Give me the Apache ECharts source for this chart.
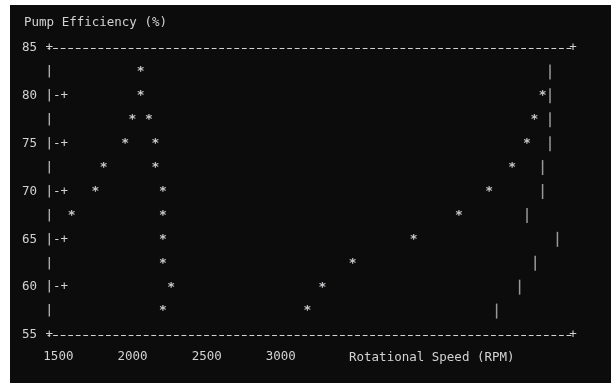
<!DOCTYPE html>
<html>
<head>
<meta charset="utf-8">
<script src="https://cdn.jsdelivr.net/npm/echarts@6/dist/echarts.min.js"></script>
<style>
  html, body { margin: 0; padding: 0; background: #ffffff; width: 611px; height: 383px; overflow: hidden; }
  #chart { position: absolute; left: 10px; top: 5px; width: 601px; height: 378px; }
</style>
</head>
<body>
<div id="chart"></div>
<script>
// Efficiency points, drawn as '*'
const starRpm = [2055, 2055, 2000, 2110, 1950, 2155, 1805, 2155, 1750, 2205, 1590, 2205, 2205, 2205, 2260, 2205,
                 4765, 4710, 4660, 4560, 4405, 4200, 3895, 3485, 3280, 3180];
const starEff = [82.5, 80, 77.5, 77.5, 75, 75, 72.5, 72.5, 70, 70, 67.5, 67.5, 65, 62.5, 60, 57.5,
                 80, 77.5, 75, 72.5, 70, 67.5, 65, 62.5, 60, 57.5];

// Second trace, drawn as '|'
const barRpm = [4815, 4815, 4815, 4815, 4765, 4765, 4660, 4865, 4715, 4610, 4455];
const barEff = [82.5, 80, 77.5, 75, 72.5, 70, 67.5, 65, 62.5, 60, 57.5];

// Axes
const xTickLabels = [1500, 2000, 2500, 3000];
const xRange = [1430, 4970];
const yRange = [55, 85];
const yStep = 2.5;

const FONT = "'DejaVu Sans Mono', 'Liberation Mono', monospace";
const FS = 12.5;
const TXT = '#d2d2d2';
const dashed = { color: TXT, width: 1, type: [4, 3.55], dashOffset: 2 };

const chart = echarts.init(document.getElementById('chart'));

const plainY = {
  type: 'value', min: yRange[0], max: yRange[1], interval: yStep,
  axisLine: { show: false }, axisTick: { show: false }, splitLine: { show: false }
};

chart.setOption({
  backgroundColor: '#0c0c0c',
  animation: false,
  textStyle: { fontFamily: FONT, fontSize: FS, color: TXT },
  title: [
    { text: 'Pump Efficiency (%)', left: 14, top: 11, padding: 0,
      textStyle: { fontFamily: FONT, fontSize: FS, fontWeight: 'normal', color: TXT } },
    { text: 'Rotational Speed (RPM)', left: 339, top: 346, padding: 0,
      textStyle: { fontFamily: FONT, fontSize: FS, fontWeight: 'normal', color: TXT } }
  ],
  grid: { left: 38, right: 38, top: 43, bottom: 48, outerBoundsMode: 'none' },
  xAxis: [
    {
      type: 'value', min: xRange[0], max: xRange[1], position: 'bottom',
      axisLine: { show: true, lineStyle: dashed },
      axisTick: { show: false }, splitLine: { show: false },
      axisLabel: { customValues: xTickLabels, margin: 15, fontFamily: FONT, fontSize: FS, color: TXT,
        formatter: v => String(v) }
    },
    {
      type: 'value', min: xRange[0], max: xRange[1], position: 'top',
      axisLine: { show: true, lineStyle: dashed },
      axisTick: { show: false }, splitLine: { show: false }, axisLabel: { show: false }
    }
  ],
  yAxis: [
    Object.assign({}, plainY, {
      position: 'left',
      axisLabel: { margin: 11, fontFamily: FONT, fontSize: FS, color: TXT,
        showMinLabel: true, showMaxLabel: true,
        formatter: v => (v % 5 === 0 ? String(v) : '') }
    }),
    Object.assign({}, plainY, {
      position: 'left',
      axisLabel: { inside: true, margin: -2.5, fontFamily: FONT, fontSize: FS, color: TXT,
        showMinLabel: true, showMaxLabel: true,
        formatter: v => (v === yRange[0] || v === yRange[1]) ? '+' : (v % 5 === 0 ? '|-+' : '|') }
    }),
    Object.assign({}, plainY, {
      position: 'right',
      axisLabel: { inside: true, margin: -3.8, fontFamily: FONT, fontSize: FS, color: TXT,
        showMinLabel: true, showMaxLabel: true,
        formatter: v => (v === yRange[0] || v === yRange[1]) ? '+' : '' }
    })
  ],
  series: [
    {
      type: 'scatter', xAxisIndex: 0, yAxisIndex: 0, silent: true,
      data: starRpm.map((x, i) => [x, starEff[i]]),
      symbol: 'circle', symbolSize: 1,
      itemStyle: { color: 'rgba(0,0,0,0)' },
      label: { show: true, position: 'inside', formatter: '*',
        fontFamily: FONT, fontSize: 13, fontWeight: 'bold', color: '#f2f6fa' }
    },
    {
      type: 'scatter', xAxisIndex: 0, yAxisIndex: 0, silent: true,
      data: barRpm.map((x, i) => [x, barEff[i]]),
      symbol: 'rect', symbolSize: [1.5, 15],
      itemStyle: { color: '#bdbdbd' }
    }
  ]
});
</script>
</body>
</html>
